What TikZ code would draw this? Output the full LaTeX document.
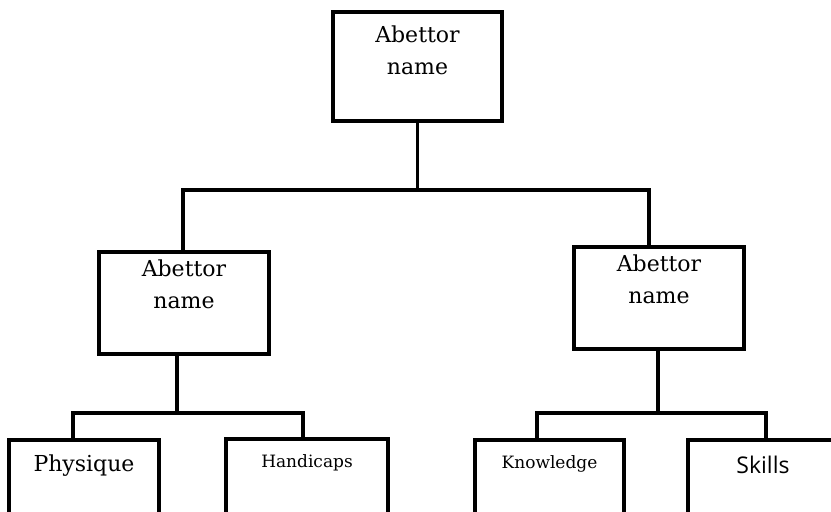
\documentclass[tikz,border=0pt]{standalone}
\usepackage{fontspec}
\setmainfont{DejaVu Serif}
\newfontfamily\skillfont{Open Sans}
\begin{document}
\begin{tikzpicture}[x=1pt,y=1pt,
  abox/.style={draw,line width=4pt,inner sep=0pt},
  link/.style={line width=3.8pt},
  bigtext/.style={font=\fontsize{22}{32}\selectfont,align=center,inner sep=0pt,anchor=north},
  smalltext/.style={font=\fontsize{17}{20}\selectfont,inner sep=0pt,anchor=north}]
\useasboundingbox (0,0) rectangle (831,512);
\clip (0,0) rectangle (831,512);

\node[abox,minimum width=168.4pt,minimum height=109.3pt] (top) at (417.5,445.6) {};
\node[bigtext] (ttop) at ([yshift=-16pt]top.north) {Abettor\\name};

\node[abox,minimum width=170pt,minimum height=102pt] (lmid) at (184,209) {};
\node[bigtext] (tlmid) at ([yshift=-10pt]lmid.north) {Abettor\\name};

\node[abox,minimum width=170pt,minimum height=102pt] (rmid) at (659,214) {};
\node[bigtext] (trmid) at ([yshift=-10pt]rmid.north) {Abettor\\name};

\node[abox,minimum width=150pt,minimum height=100pt] (phys) at (84,22) {};
\node[bigtext] (tphys) at ([yshift=-17pt]phys.north) {Physique};

\node[abox,minimum width=162pt,minimum height=100pt] (hand) at (307,23) {};
\node[smalltext] (thand) at ([yshift=-17pt]hand.north) {Handicaps};

\node[abox,minimum width=149pt,minimum height=100pt] (know) at (549.5,22) {};
\node[smalltext] (tknow) at ([yshift=-17pt]know.north) {Knowledge};

\node[abox,minimum width=150pt,minimum height=100pt] (skill) at (763,22) {};
\node[bigtext,font=\skillfont\fontsize{23}{26}\selectfont] (tskill) at ([yshift=-18pt]skill.north) {Skills};

\coordinate (b0l) at (183,322);
\coordinate (b0r) at (649,322);
\draw[link] (top.south) -- (top.south |- b0l);
\draw[link] (b0l |- lmid.north) -- (b0l) -- (b0r) -- (b0r |- rmid.north);

\coordinate (j1) at (177,99);
\coordinate (b1l) at (73,99);
\coordinate (b1r) at (303,99);
\draw[link] (j1 |- lmid.south) -- (j1);
\draw[link] (b1l |- phys.north) -- (b1l) -- (b1r) -- (b1r |- hand.north);

\coordinate (j2) at (658,99);
\coordinate (b2l) at (537,99);
\coordinate (b2r) at (766,99);
\draw[link] (j2 |- rmid.south) -- (j2);
\draw[link] (b2l |- know.north) -- (b2l) -- (b2r) -- (b2r |- skill.north);
\end{tikzpicture}
\end{document}
